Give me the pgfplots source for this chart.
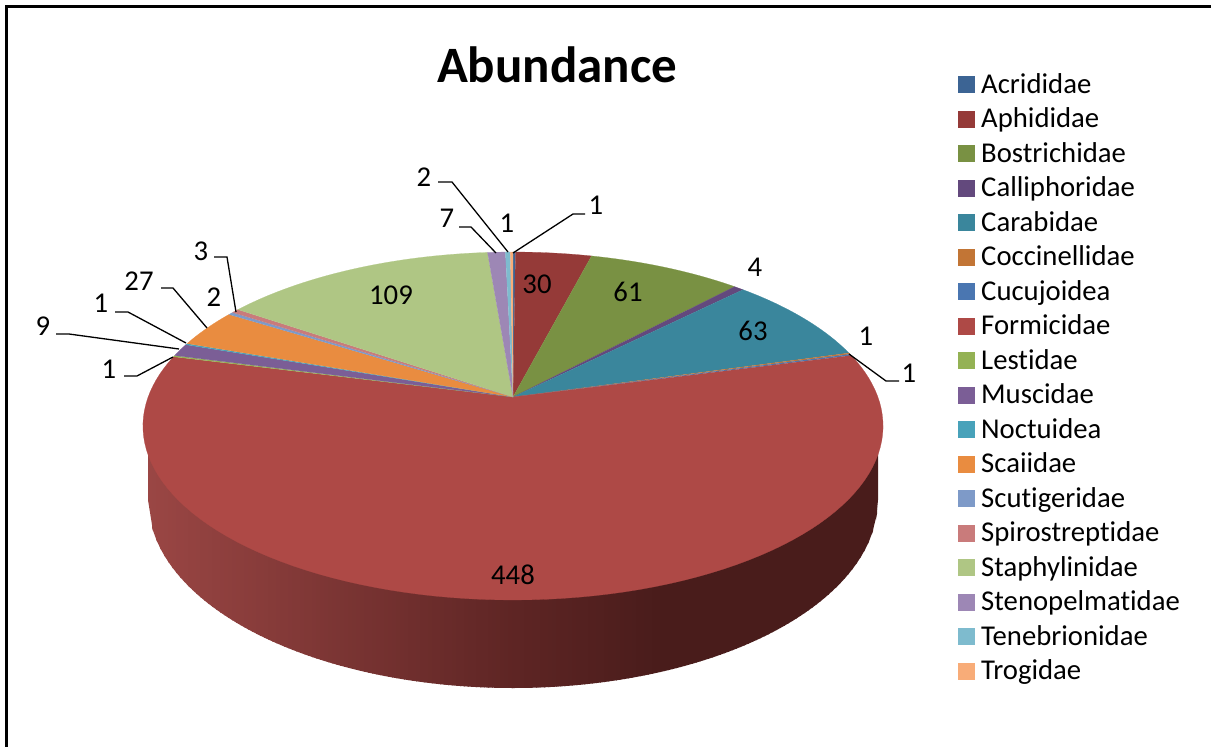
\documentclass[border=0pt]{standalone}
\usepackage{pgfplots}
\pgfplotsset{compat=1.18}
\usepackage{fontspec}
\setmainfont[Ligatures=NoCommon]{Carlito}

% Family colours
\definecolor{acri}{HTML}{3C6494}
\definecolor{aphi}{HTML}{953A38}
\definecolor{bost}{HTML}{799143}
\definecolor{call}{HTML}{63497D}
\definecolor{cara}{HTML}{3A869C}
\definecolor{cocc}{HTML}{C27535}
\definecolor{cucu}{HTML}{4A76B1}
\definecolor{form}{HTML}{AE4946}
\definecolor{lest}{HTML}{94B254}
\definecolor{musc}{HTML}{7B5E96}
\definecolor{noct}{HTML}{48A2BA}
\definecolor{scai}{HTML}{E98C40}
\definecolor{scut}{HTML}{7E9AC8}
\definecolor{spir}{HTML}{C97B7B}
\definecolor{stap}{HTML}{AFC684}
\definecolor{sten}{HTML}{9D87B5}
\definecolor{tene}{HTML}{7EBBCE}
\definecolor{trog}{HTML}{F8AC78}

% Rim shading of the disc, left to right
\definecolor{rimA}{HTML}{9A4644}
\definecolor{rimB}{HTML}{5E2524}
\definecolor{rimC}{HTML}{491C1B}
\foreach \i in {0,...,182}{%
  \pgfmathsetmacro\xpos{148+4*\i}%
  \ifdim\xpos pt<513pt
    \pgfmathsetmacro\mixval{(\xpos-148)/365*100}%
    \xglobal\colorlet{rim\i}{rimB!\mixval!rimA}%
  \else\ifdim\xpos pt<660pt
    \pgfmathsetmacro\mixval{(\xpos-513)/147*100}%
    \xglobal\colorlet{rim\i}{rimC!\mixval!rimB}%
  \else
    \xglobal\colorlet{rim\i}{rimC}%
  \fi\fi
}

% One wedge of the pie: first count, last count, colour
\newcommand{\pieslice}[3]{%
  \addplot[fill=#3, draw=#3, line width=0.2pt, variable=\s, samples at={-1,0,...,100}]
    ({pieX(#1+(#2-#1)*max(\s,0)/100, (\s>-0.5))},
     {pieY(#1+(#2-#1)*max(\s,0)/100, (\s>-0.5))});
}
\newcommand{\family}[3]{%
  \pgfmathtruncatemacro\nextcount{\runningcount+#1}%
  \edef\doslice{\noexpand\pieslice{\runningcount}{\nextcount}{#2}}%
  \doslice
  \addlegendentry{#3}
  \let\runningcount\nextcount
}
\newcommand{\lab}[3]{\node[font=\fontsize{28.7}{28.7}\selectfont, inner sep=0pt] at (axis cs:#1,#2) {#3};}
\newcommand{\leader}[1]{\addplot[black, line width=1.3pt, forget plot] coordinates {#1};}

\begin{document}
\begin{tikzpicture}
\path[use as bounding box] (0,0) rectangle (1211pt,747pt);
\begin{axis}[
  scale only axis, width=1211pt, height=747pt,
  xmin=0, xmax=1211, ymin=0, ymax=747, y dir=reverse,
  axis lines=none,
  declare function={
    pieX(\a,\r)=513+364.9*\r*sin(\a*360/771)/(1+\r*cos(\a*360/771)/6);
    pieY(\a,\r)=426-(174*\r*cos(\a*360/771)+29)/(1+\r*cos(\a*360/771)/6);
    rimBottom(\x)=500+188*sqrt(max(0,1-((\x-513)/365)^2));
  },
  legend cell align=left,
  legend image code/.code={\fill[#1] (0pt,1pt) rectangle (16pt,17pt); \path (23pt,0pt);},
  legend style={
    at={(axis cs:958,76)}, anchor=north west,
    draw=none, fill=none, inner sep=0pt, outer sep=0pt,
    row sep=0pt,
    font=\fontsize{28.7}{28.7}\selectfont,
    nodes={inner sep=0pt, text height=17pt, text depth=17.5pt},
  },
]
% Rim of the disc, drawn as narrow vertical bands
\pgfplotsinvokeforeach{0,...,182}{
  \addplot[fill=rim#1, draw=none, forget plot, variable=\t, samples at={0,1,2,3}]
    ({min(878,148+4*#1+(\t>0.5 && \t<2.5)*5)},
     {\t<1.5 ? rimBottom(min(878,148+4*#1+(\t>0.5)*5)) : 420});
}
% Top face: one wedge per family, clockwise from twelve o'clock
\def\runningcount{0}
\family{1}{acri}{Acrididae}
\family{30}{aphi}{Aphididae}
\family{61}{bost}{Bostrichidae}
\family{4}{call}{Calliphoridae}
\family{63}{cara}{Carabidae}
\family{1}{cocc}{Coccinellidae}
\family{1}{cucu}{Cucujoidea}
\family{448}{form}{Formicidae}
\family{1}{lest}{Lestidae}
\family{9}{musc}{Muscidae}
\family{1}{noct}{Noctuidea}
\family{27}{scai}{Scaiidae}
\family{2}{scut}{Scutigeridae}
\family{3}{spir}{Spirostreptidae}
\family{109}{stap}{Staphylinidae}
\family{7}{sten}{Stenopelmatidae}
\family{2}{tene}{Tenebrionidae}
\family{1}{trog}{Trogidae}

% Leader lines
\leader{(214,257) (227,257) (236,312)}
\leader{(161,288) (173,288) (207,328)}
\leader{(115,312) (128,312) (186,343)}
\leader{(56,334) (69,334) (179,349)}
\leader{(124,376) (137,376) (173,357)}
\leader{(438,182) (452,182) (508,252)}
\leader{(459,227) (471,227) (496,253)}
\leader{(585,214) (573,214) (513,253)}
\leader{(899,381) (886,381) (849,354)}

% Data labels
\lab{596}{205}{1}
\lab{537}{284}{30}
\lab{628}{292}{61}
\lab{755}{267}{4}
\lab{753}{331}{63}
\lab{866}{336}{1}
\lab{909}{373}{1}
\lab{513}{575}{448}
\lab{109}{369}{1}
\lab{43}{326}{9}
\lab{101}{303}{1}
\lab{139}{281}{27}
\lab{214}{297}{2}
\lab{201}{251}{3}
\lab{391}{295}{109}
\lab{447}{218}{7}
\lab{424}{177}{2}
\lab{507}{223}{1}

% Title and outer frame
\node[font=\fontsize{51}{51}\selectfont\bfseries, inner sep=0pt] at (axis cs:557,65) {Abundance};
\draw[black, line width=3pt] (axis cs:6.5,747) -- (axis cs:6.5,6.5) -- (axis cs:1211,6.5);
\end{axis}
\end{tikzpicture}
\end{document}
